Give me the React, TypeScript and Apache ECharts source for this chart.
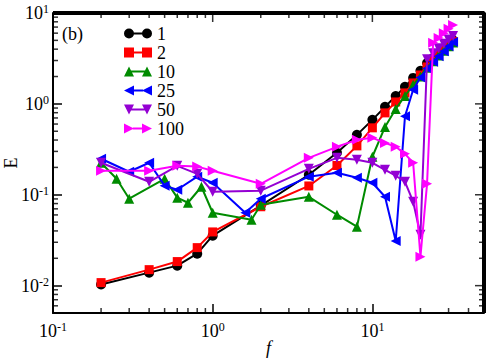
import React, { useEffect, useRef } from "react";
import * as echarts from "echarts";

// ---------------- data ----------------
const f1 = [0.2, 0.4, 0.6, 0.8, 1, 2, 4, 6, 8, 10, 12, 14, 16, 18, 20, 22, 24, 26, 28, 30, 32];
const e1 = [0.0103, 0.0139, 0.0166, 0.0225, 0.0355, 0.076, 0.166, 0.29, 0.456, 0.667, 0.927, 1.22, 1.54, 1.93, 2.31, 2.82, 3.2, 3.6, 4.05, 4.5, 5.0];

const f2 = [0.2, 0.4, 0.6, 0.8, 1, 2, 4, 6, 8, 10, 12, 14, 16, 18, 20, 22, 24, 26, 28, 30, 32];
const e2 = [0.0108, 0.015, 0.0184, 0.0262, 0.039, 0.0738, 0.125, 0.21, 0.345, 0.545, 0.796, 1.05, 1.32, 1.7, 2.08, 2.55, 3.0, 3.45, 3.9, 4.35, 4.85];

const f10 = [0.2, 0.25, 0.3, 0.5, 0.6, 0.7, 0.85, 1, 1.75, 2, 4, 6, 8, 10, 12, 14, 16, 18, 20, 22, 24, 26, 28, 30, 32];
const e10 = [0.225, 0.15, 0.0904, 0.15, 0.093, 0.0817, 0.1225, 0.0634, 0.053, 0.0776, 0.095, 0.0603, 0.0445, 0.262, 0.558, 0.88, 1.22, 1.62, 2.0, 2.5, 2.95, 3.4, 3.85, 4.3, 4.75];

const f25 = [0.2, 0.3, 0.4, 0.5, 0.6, 0.8, 1, 1.6, 2, 4, 6, 8, 10, 12, 14, 16, 18, 20, 22, 24, 26, 28, 30, 32];
const e25 = [0.249, 0.179, 0.225, 0.126, 0.1135, 0.158, 0.1355, 0.0634, 0.0904, 0.158, 0.175, 0.154, 0.1355, 0.095, 0.031, 0.73, 1.43, 1.95, 2.45, 2.9, 3.35, 3.8, 4.3, 4.8];

const f50 = [0.2, 0.4, 0.6, 0.8, 1, 2, 4, 6, 8, 10, 12, 14, 16, 18, 20, 22, 24, 26, 28, 30, 32];
const e50 = [0.225, 0.139, 0.208, 0.17, 0.108, 0.111, 0.193, 0.255, 0.243, 0.225, 0.188, 0.162, 0.139, 0.0838, 0.0363, 3.1, 3.6, 4.1, 4.6, 5.1, 5.6];

const f100 = [0.2, 0.4, 0.6, 0.8, 1, 2, 4, 6, 8, 10, 12, 14, 16, 18, 20, 22, 24, 26, 28, 30, 32];
const e100 = [0.184, 0.184, 0.208, 0.204, 0.184, 0.132, 0.255, 0.337, 0.402, 0.423, 0.372, 0.337, 0.282, 0.225, 0.0208, 0.132, 4.7, 5.3, 6.0, 6.7, 7.4];

const seriesNames = ["1", "2", "10", "25", "50", "100"];

const xMajor = [0.1, 1, 10];
const xMinor = [0.2, 0.3, 0.4, 0.5, 0.6, 0.7, 0.8, 0.9, 2, 3, 4, 5, 6, 7, 8, 9, 20, 30, 40];
const yMajor = [0.01, 0.1, 1, 10];
const yMinor = [0.006, 0.007, 0.008, 0.009, 0.02, 0.03, 0.04, 0.05, 0.06, 0.07, 0.08, 0.09,
  0.2, 0.3, 0.4, 0.5, 0.6, 0.7, 0.8, 0.9, 2, 3, 4, 5, 6, 7, 8, 9];

const X_MIN = 0.1;
const X_MAX = 50;
const Y_MIN = 0.005;
const Y_MAX = 10;

// ---------------- layout / styling ----------------
const GRID = { left: 53, right: 4, top: 13, bottom: 51 };
const W = 488;
const H = 364;
const SERIF = "Liberation Serif";
const colors = ["#000000", "#ff0000", "#008b00", "#0000ff", "#9400d3", "#ff00ff"];
const symbols = ["circle", "rect", "triangle", "triangle", "triangle", "triangle"];
const rotations = [0, 0, 0, 90, 180, -90];
const sizes = [10, 9, 10, 10, 10, 10];

const legendIcons = [
  "path://M0 5 A5 5 0 1 1 10 5 A5 5 0 1 1 0 5 Z M18 5 A5 5 0 1 1 28 5 A5 5 0 1 1 18 5 Z M9 4 H19 V6 H9 Z",
  "path://M0 0 H10 V10 H0 Z M18 0 H28 V10 H18 Z M9 4 H19 V6 H9 Z",
  "path://M5 0 L10 10 L0 10 Z M23 0 L28 10 L18 10 Z M7 4 H21 V6 H7 Z",
  "path://M0 5 L10 0 L10 10 Z M18 5 L28 0 L28 10 Z M9 4 H19 V6 H9 Z",
  "path://M0 0 L10 0 L5 10 Z M18 0 L28 0 L23 10 Z M7 4 H21 V6 H7 Z",
  "path://M0 0 L10 5 L0 10 Z M18 0 L28 5 L18 10 Z M9 4 H19 V6 H9 Z",
];

const powLabel = (v: number) => {
  const e = Math.round(Math.log10(v));
  return `{b|10}{s|${e}}`;
};
const richLabel = {
  b: { fontFamily: SERIF, fontSize: 18, color: "#000", lineHeight: 20 },
  s: { fontFamily: SERIF, fontSize: 12, color: "#000", verticalAlign: "top", lineHeight: 20 },
};

const MAJOR_LEN = 9;
const MINOR_LEN = 5;
const TICK_W = 1.5;

const lineSeries = [
  [f1, e1],
  [f2, e2],
  [f10, e10],
  [f25, e25],
  [f50, e50],
  [f100, e100],
].map(([fs, es], i) => ({
  name: seriesNames[i],
  type: "line",
  data: (fs as number[]).map((f, j) => [f, (es as number[])[j]]),
  symbol: symbols[i],
  symbolSize: sizes[i],
  symbolRotate: rotations[i],
  showAllSymbol: true,
  lineStyle: { color: colors[i], width: 2 },
  itemStyle: { color: colors[i], borderWidth: 0 },
  z: 2 + i,
}));

// inward minor ticks and mirrored ticks: scatter symbols placed through the axes' scales
type Tick = { value: number[]; symbolSize: number[]; symbolOffset: number[] };
const tickItems: Tick[] = [];
xMajor.concat(xMinor).forEach((v) => {
  const major = xMajor.includes(v);
  const len = major ? MAJOR_LEN : MINOR_LEN;
  if (!major) tickItems.push({ value: [v, Y_MIN], symbolSize: [TICK_W, len], symbolOffset: [0, -len / 2] });
  tickItems.push({ value: [v, Y_MAX], symbolSize: [TICK_W, len], symbolOffset: [0, len / 2] });
});
yMajor.concat(yMinor).forEach((v) => {
  const major = yMajor.includes(v);
  const len = major ? MAJOR_LEN : MINOR_LEN;
  if (!major) tickItems.push({ value: [X_MIN, v], symbolSize: [len, TICK_W], symbolOffset: [len / 2, 0] });
  tickItems.push({ value: [X_MAX, v], symbolSize: [len, TICK_W], symbolOffset: [-len / 2, 0] });
});

const tickSeries = {
  name: "ticks",
  type: "scatter",
  symbol: "rect",
  clip: false,
  silent: true,
  itemStyle: { color: "#000", borderWidth: 0 },
  data: tickItems,
  z: 30,
};

const frameSeries = {
  name: "frame",
  type: "line",
  symbol: "none",
  silent: true,
  lineStyle: { color: "#000", width: 4 },
  data: [
    [X_MIN, Y_MAX],
    [X_MAX, Y_MAX],
    [X_MAX, Y_MIN],
  ],
  z: 30,
};

export default function App() {
  const ref = useRef<HTMLDivElement>(null);
  useEffect(() => {
    const chart = echarts.init(ref.current!, null, { renderer: "svg" });
    chart.setOption({
      animation: false,
      backgroundColor: "#ffffff",
      textStyle: { fontFamily: SERIF },
      grid: { ...GRID, containLabel: false, outerBoundsMode: "none" },
      xAxis: {
        type: "log",
        logBase: 10,
        min: X_MIN,
        max: X_MAX,
        splitLine: { show: false },
        axisLine: { show: true, onZero: false, lineStyle: { color: "#000", width: 2 } },
        axisTick: { show: true, inside: true, length: MAJOR_LEN, lineStyle: { color: "#000", width: TICK_W } },
        axisLabel: { show: true, customValues: xMajor, formatter: powLabel, rich: richLabel, margin: 8 },
        name: "f",
        nameLocation: "middle",
        nameGap: 26,
        nameMoveOverlap: false,
        nameTextStyle: { fontFamily: SERIF, fontSize: 18, fontStyle: "italic", color: "#000" },
      },
      yAxis: {
        type: "log",
        logBase: 10,
        min: Y_MIN,
        max: Y_MAX,
        splitLine: { show: false },
        axisLine: { show: true, onZero: false, lineStyle: { color: "#000", width: 2 } },
        axisTick: { show: true, inside: true, length: MAJOR_LEN, lineStyle: { color: "#000", width: TICK_W } },
        axisLabel: { show: true, customValues: yMajor, formatter: powLabel, rich: richLabel, margin: 4 },
        name: "E",
        nameLocation: "middle",
        nameGap: 33,
        nameRotate: 90,
        nameMoveOverlap: false,
        nameTextStyle: { fontFamily: SERIF, fontSize: 18, color: "#000" },
      },
      legend: {
        show: true,
        orient: "vertical",
        left: 124,
        top: 24,
        padding: 0,
        itemGap: 0,
        itemWidth: 28,
        itemHeight: 10,
        symbolRotate: 0,
        itemStyle: { borderWidth: 0 },
        textStyle: { fontFamily: SERIF, fontSize: 18, color: "#000", lineHeight: 19 },
        data: seriesNames.map((n, i) => ({ name: n, icon: legendIcons[i] })),
      },
      graphic: [
        {
          type: "text",
          left: 62,
          top: 25,
          style: { text: "(b)", font: `18px "${SERIF}"`, fill: "#000" },
        },
      ],
      series: [...lineSeries, frameSeries, tickSeries],
    });
    return () => chart.dispose();
  }, []);
  return <div ref={ref} style={{ position: "fixed", left: 0, top: 0, width: W, height: H }} />;
}
